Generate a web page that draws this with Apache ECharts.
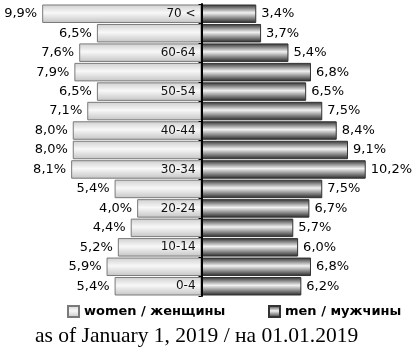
<!DOCTYPE html>
<html><head><meta charset="utf-8">
<script src="https://cdn.jsdelivr.net/npm/echarts@6/dist/echarts.min.js"></script>
<style>html,body{margin:0;padding:0;background:#fff}#c{width:419px;height:355px}</style>
</head><body><div id="c"></div>
<script>
const categories = ['0-4','5-9','10-14','15-19','20-24','25-29','30-34','35-39','40-44','45-49','50-54','55-59','60-64','65-69','70 <'];
const women = [5.4, 5.9, 5.2, 4.4, 4.0, 5.4, 8.1, 8.0, 8.0, 7.1, 6.5, 7.9, 7.6, 6.5, 9.9];
const men = [6.2, 6.8, 6.0, 5.7, 6.7, 7.5, 10.2, 9.1, 8.4, 7.5, 6.5, 6.8, 5.4, 3.7, 3.4];
const womenName = 'women / женщины';
const menName = 'men / мужчины';
const subtitle = 'as of January 1, 2019 / на 01.01.2019';

const fmt = v => Math.abs(v).toFixed(1).replace('.', ',') + '%';
const chart = echarts.init(document.getElementById('c'));
const womenFill = new echarts.graphic.LinearGradient(0,0,0,1,[
  {offset:0,color:'#cfcfcf'},{offset:0.45,color:'#f8f8f8'},{offset:1,color:'#c4c4c4'}]);
const menFill = new echarts.graphic.LinearGradient(0,0,0,1,[
  {offset:0,color:'#2e2e2e'},{offset:0.45,color:'#f2f2f2'},{offset:1,color:'#262626'}]);
chart.setOption({
  animation:false,
  textStyle:{fontFamily:'DejaVu Sans'},
  grid:{left:0,right:0,top:4,bottom:59,containLabel:false,outerBoundsMode:'none'},
  xAxis:{type:'value',min:-12.52,max:13.51,show:false},
  yAxis:{type:'category',data:categories,
    axisLine:{onZero:true,lineStyle:{color:'#000',width:2}},
    axisTick:{show:true,length:3,lineStyle:{color:'#000'}},
    axisLabel:{show:false},
    z:10},
  legend:[
    {data:[womenName],left:62,top:300,icon:'rect',itemWidth:11,itemHeight:11,itemGap:5,
     textStyle:{fontWeight:'bold',fontSize:13,color:'#000',fontFamily:'DejaVu Sans'}},
    {data:[menName],left:263,top:300,icon:'rect',itemWidth:11,itemHeight:11,itemGap:5,
     textStyle:{fontWeight:'bold',fontSize:13,color:'#000',fontFamily:'DejaVu Sans'}}
  ],
  title:{text:subtitle,left:35,top:325,padding:0,
    textStyle:{fontFamily:'Liberation Serif',fontWeight:'normal',fontSize:21.5,color:'#000'}},
  series:[
    {name:womenName,type:'bar',data:women.map(v=>-v),barGap:'-100%',barCategoryGap:'5%',
     itemStyle:{color:womenFill,borderColor:'#7a7a7a',borderWidth:1},
     label:{show:true,position:'left',distance:5,formatter:p=>fmt(p.value),fontSize:13,color:'#000',fontFamily:'DejaVu Sans'}},
    {name:menName,type:'bar',data:men,barCategoryGap:'5%',
     itemStyle:{color:menFill,borderColor:'#333',borderWidth:1},
     label:{show:true,position:'right',distance:5,formatter:p=>fmt(p.value),fontSize:13,color:'#000',fontFamily:'DejaVu Sans'}},
    {name:'ages',type:'scatter',data:categories.map(()=>0),symbolSize:0,z:5,silent:true,
     itemStyle:{opacity:1},
     label:{show:true,position:'left',distance:6,fontSize:12,color:'#111',opacity:1,fontFamily:'DejaVu Sans',
       formatter:p=>(p.dataIndex%2===0?categories[p.dataIndex]:'')}}
  ]
});
</script></body></html>
